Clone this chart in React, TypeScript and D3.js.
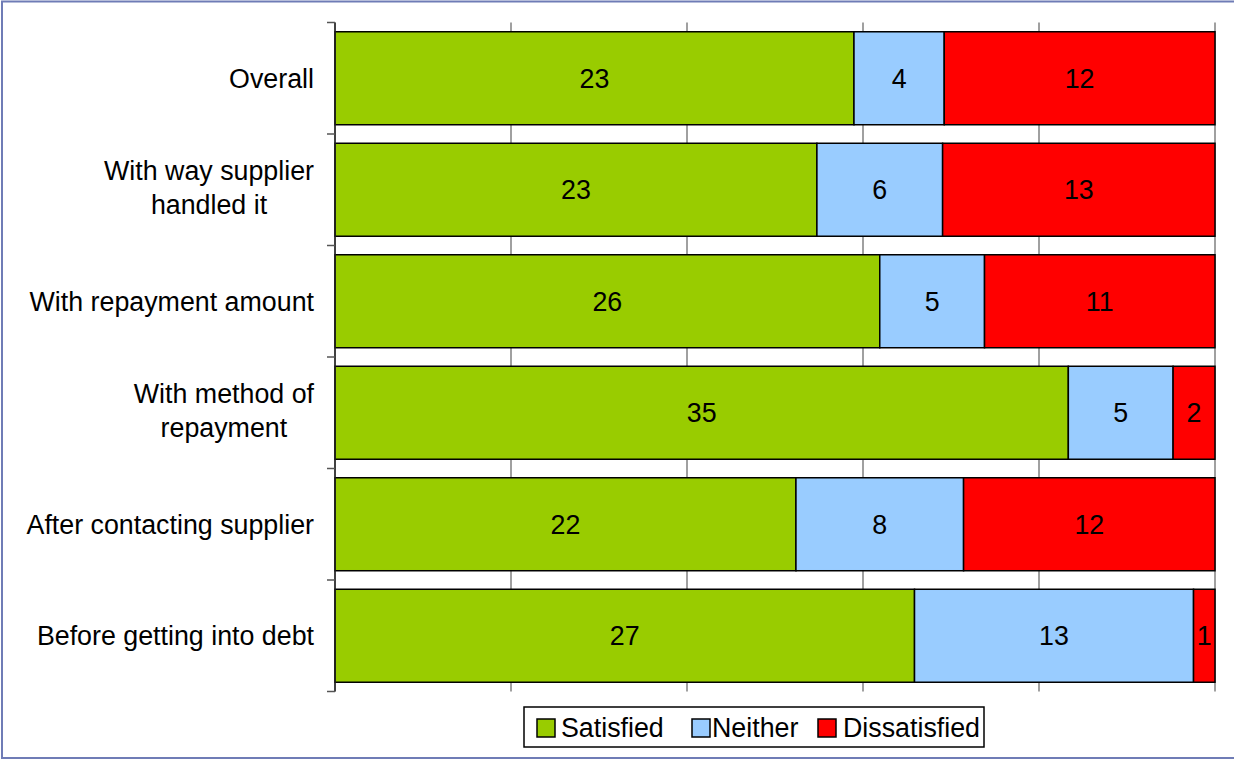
import React from "react";
import * as d3 from "d3";

const categories = [
  "Overall",
  "With way supplier|handled it",
  "With repayment amount",
  "With method of|repayment",
  "After contacting supplier",
  "Before getting into debt",
];
const seriesNames = ["Satisfied", "Neither", "Dissatisfied"];
const satisfied = [23, 23, 26, 35, 22, 27];
const neither = [4, 6, 5, 5, 8, 13];
const dissatisfied = [12, 13, 11, 2, 12, 1];
const colors = ["#99cc00", "#99ccff", "#ff0000"];
const xTicks = [0, 0.2, 0.4, 0.6, 0.8, 1];

const W = 1234;
const H = 760;
const L = 335, R = 1215, T = 22.5, B = 691.5;
const FONT = "'Liberation Sans', Arial, sans-serif";
const FS = 26.8;

let ctx: CanvasRenderingContext2D | null = null;
function measure(s: string): number {
  if (!ctx) {
    ctx = document.createElement("canvas").getContext("2d");
  }
  if (!ctx) return s.length * FS * 0.5;
  ctx.font = `${FS}px ${FONT}`;
  return ctx.measureText(s).width;
}

export default function App() {
  const series = [satisfied, neither, dissatisfied];
  const x = d3.scaleLinear().domain([0, 1]).range([L, R]);
  const y = d3
    .scaleBand<number>()
    .domain(d3.range(categories.length))
    .range([T, B])
    .paddingInner(0.166)
    .paddingOuter(0.083);
  const step = y.step();

  const rows = categories.map((c, i) => {
    const vals = series.map((s) => s[i]);
    const total = d3.sum(vals);
    let acc = 0;
    const segs = vals.map((v, k) => {
      const x0 = acc / total;
      acc += v;
      return { k, v, x0, x1: acc / total };
    });
    return { c, i, segs };
  });

  const legendItems = [
    { sx: 537, tx: 561 },
    { sx: 692, tx: 712 },
    { sx: 818, tx: 843 },
  ];

  const labelRight = 314;

  return (
    <svg
      width={W}
      height={H}
      style={{ position: "absolute", left: 0, top: 0, background: "#fff" }}
      fontFamily={FONT}
    >
      <rect x={0} y={0} width={W} height={H} fill="#fff" />
      <rect x={2} y={1.5} width={W + 10} height={756.5} fill="none" stroke="#6f7cb6" strokeWidth={2} />

      {/* gridlines */}
      {xTicks.map((t) => (
        <line key={t} x1={x(t)} x2={x(t)} y1={T} y2={B} stroke="#808080" strokeWidth={1.5} />
      ))}

      {/* bars */}
      {rows.map((r) =>
        r.segs.map((s) => {
          const x0 = x(s.x0);
          const x1 = x(s.x1);
          const yy = y(r.i)!;
          return (
            <g key={`${r.i}-${s.k}`}>
              <rect
                x={x0}
                y={yy}
                width={x1 - x0}
                height={y.bandwidth()}
                fill={colors[s.k]}
                stroke="#000"
                strokeWidth={1.5}
              />
              <text
                x={(x0 + x1) / 2}
                y={yy + y.bandwidth() / 2}
                dy="0.35em"
                textAnchor="middle"
                fontSize={FS}
                fill="#000"
              >
                {s.v}
              </text>
            </g>
          );
        })
      )}

      {/* left axis */}
      <line x1={L} x2={L} y1={T} y2={B} stroke="#222" strokeWidth={1.5} />
      {d3.range(categories.length + 1).map((i) => (
        <line key={i} x1={L - 8} x2={L} y1={T + i * step} y2={T + i * step} stroke="#555" strokeWidth={1.5} />
      ))}

      {/* category labels */}
      {rows.map((r) => {
        const lines = r.c.split("|");
        const multi = lines.length > 1;
        const cy = y(r.i)! + y.bandwidth() / 2 - (multi ? 2 : 0);
        const lh = 34;
        const maxW = Math.max(...lines.map(measure));
        return (
          <text key={r.i} fontSize={FS} fill="#000" textAnchor={multi ? "middle" : "end"}>
            {lines.map((l, j) => (
              <tspan
                key={j}
                x={multi ? labelRight - maxW / 2 : labelRight}
                y={cy + (j - (lines.length - 1) / 2) * lh}
                dy="0.35em"
              >
                {l}
              </tspan>
            ))}
          </text>
        );
      })}

      {/* legend */}
      <rect x={524} y={707} width={460} height={40} fill="#fff" stroke="#000" strokeWidth={1.5} />
      {seriesNames.map((n, k) => (
        <g key={n}>
          <rect x={legendItems[k].sx} y={719} width={18} height={18} fill={colors[k]} stroke="#000" strokeWidth={1.5} />
          <text x={legendItems[k].tx} y={728} dy="0.35em" fontSize={FS} fill="#000">
            {n}
          </text>
        </g>
      ))}
    </svg>
  );
}
